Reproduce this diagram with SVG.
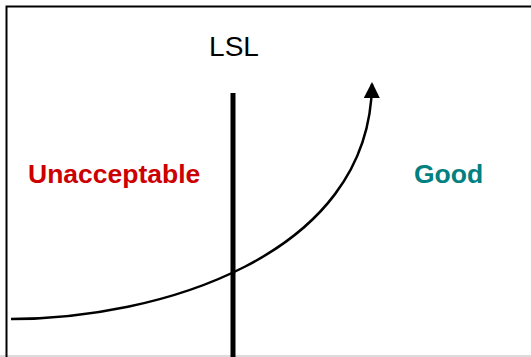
<svg xmlns="http://www.w3.org/2000/svg" width="531" height="357" viewBox="0 0 531 357">
<style>
.lbl{font-family:"Liberation Sans",Arial,sans-serif;font-size:26.5px;font-weight:bold}
</style>
<defs>
<marker id="ah" markerWidth="16" markerHeight="16" refX="14" refY="8" orient="auto" markerUnits="userSpaceOnUse">
<path d="M0,0 L16,8 L0,16 Z" fill="#000"/>
</marker>
</defs>
<rect x="0" y="0" width="531" height="357" fill="#fff"/>
<line x1="0" y1="356" x2="531" y2="356" stroke="#d0d0d0" stroke-width="1.5"/>
<path d="M6.5,357 L6.5,6.5 L531,6.5" fill="none" stroke="#000" stroke-width="2"/>
<g id="lsl">
<line x1="233" y1="93" x2="233" y2="357" stroke="#000" stroke-width="5"/>
<text x="234" y="56" text-anchor="middle" font-family="Liberation Sans,Arial,sans-serif" font-size="28">LSL</text>
</g>
<g id="unacceptable"><text class="lbl" x="28" y="183" fill="#CC0000">Unacceptable</text></g>
<g id="good"><text class="lbl" x="414" y="183" fill="#008080">Good</text></g>
<g id="connectors">
<path d="M11,319 C155,319 370,258 372,84" fill="none" stroke="#000" stroke-width="2.5" marker-end="url(#ah)"/>
</g>
</svg>
